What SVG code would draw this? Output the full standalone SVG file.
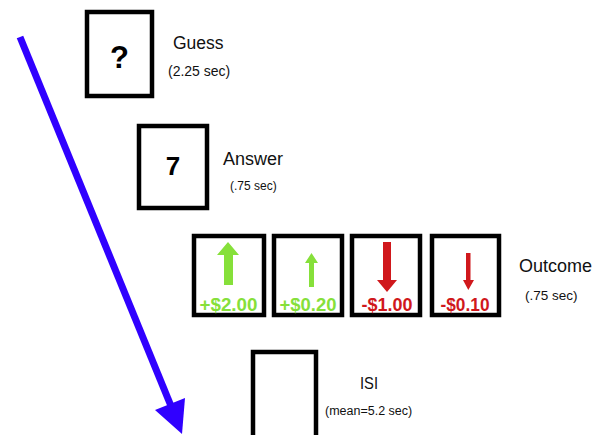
<svg xmlns="http://www.w3.org/2000/svg" width="606" height="435" viewBox="0 0 606 435">
<style>
.box{fill:#fff;stroke:#000;stroke-width:4.5}
.lbl{font-family:"Liberation Sans",Arial,sans-serif;fill:#111}
.sub{font-family:"Liberation Sans",Arial,sans-serif;fill:#111}
.sym{font-family:"Liberation Sans",Arial,sans-serif;font-weight:bold;fill:#000;text-anchor:middle}
.amt{font-family:"Liberation Sans",Arial,sans-serif;font-weight:bold;font-size:18.5px;text-anchor:middle}
.g{fill:#86E03A}
.r{fill:#D0181C}
</style>
<rect width="606" height="435" fill="#fff"/>
<g id="connectors">
<line x1="20" y1="37" x2="171" y2="406" stroke="#3000FF" stroke-width="7"/>
<polygon points="155,410 185,398 182,434" fill="#3000FF"/>
</g>
<g id="guess">
<rect class="box" x="87" y="12" width="65" height="84"/>
<text class="sym" x="119.5" y="68" font-size="31">?</text>
<text class="lbl" x="173" y="49" font-size="17.5">Guess</text>
<text class="sub" x="168" y="76" font-size="14">(2.25 sec)</text>
</g>
<g id="answer">
<rect class="box" x="139" y="126" width="68" height="82"/>
<text class="sym" x="173" y="175" font-size="26">7</text>
<text class="lbl" x="223" y="165" font-size="18">Answer</text>
<text class="sub" x="230" y="190" font-size="12">(.75 sec)</text>
</g>
<g id="outcome">
<g id="win-large">
<rect class="box" x="194" y="236" width="70" height="79"/>
<polygon class="g" points="228,242 239,255 233,255 233,285 224,285 224,255 217,255"/>
<text class="amt g" x="228.5" y="311" textLength="58" lengthAdjust="spacingAndGlyphs">+$2.00</text>
</g>
<g id="win-small">
<rect class="box" x="274" y="236" width="68" height="79"/>
<polygon class="g" points="311.5,253 318,263 314,263 314,287 309,287 309,263 305,263"/>
<text class="amt g" x="308" y="311" textLength="57" lengthAdjust="spacingAndGlyphs">+$0.20</text>
</g>
<g id="loss-large">
<rect class="box" x="352" y="236" width="68" height="79"/>
<polygon class="r" points="383,242 391,242 391,280 397,280 387,292 377,280 383,280"/>
<text class="amt r" x="387" y="311" textLength="51" lengthAdjust="spacingAndGlyphs">-$1.00</text>
</g>
<g id="loss-small">
<rect class="box" x="432" y="236" width="67" height="79"/>
<polygon class="r" points="466,253 470.5,253 470.5,280 474,280 468.3,290 463,280 466,280"/>
<text class="amt r" x="465" y="311" textLength="49" lengthAdjust="spacingAndGlyphs">-$0.10</text>
</g>
<text class="lbl" x="519" y="272" font-size="18">Outcome</text>
<text class="sub" x="525" y="300" font-size="13.5">(.75 sec)</text>
</g>
<g id="isi">
<rect class="box" x="253" y="352" width="63" height="95"/>
<text class="lbl" x="360" y="389" font-size="17" textLength="18" lengthAdjust="spacingAndGlyphs">ISI</text>
<text class="sub" x="325" y="415" font-size="12.5">(mean=5.2 sec)</text>
</g>
</svg>
